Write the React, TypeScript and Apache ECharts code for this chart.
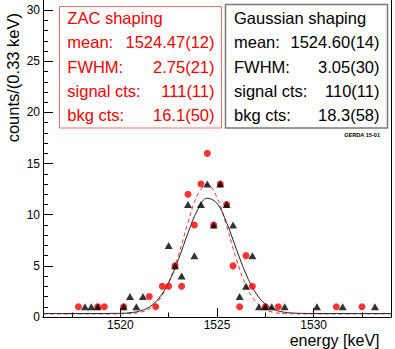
import React, { useEffect, useRef } from "react";
import * as echarts from "echarts";

// ---- data ----
// ZAC shaping (red circles): bin centres [keV] and counts per 0.33 keV
const zacEnergy = [1517.83, 1518.83, 1519.17, 1520.17, 1521.5, 1521.83, 1522.17, 1522.5, 1522.83, 1523.17, 1523.5, 1523.83, 1524.17, 1524.5, 1524.83, 1525.17, 1525.5, 1525.83, 1526.17, 1526.5, 1526.83, 1527.5, 1528.17, 1531.17, 1532.5];
const zacCounts = [1, 1, 1, 1, 2, 1, 3, 3, 5, 3, 12, 9, 13, 16, 9, 13, 11, 5, 1, 6, 3, 1, 1, 1, 1];

// Gaussian shaping (black triangles)
const gausEnergy = [1518.17, 1518.5, 1518.83, 1520.17, 1520.5, 1520.83, 1521.17, 1522.5, 1522.83, 1523.17, 1523.5, 1523.83, 1524.17, 1524.5, 1524.83, 1525.17, 1525.5, 1525.83, 1526.17, 1526.5, 1526.83, 1527.17, 1527.5, 1527.83, 1528.5, 1530.17, 1531.5, 1533.17];
const gausCounts = [1, 1, 1, 1, 2, 1, 2, 7, 5, 4, 11, 6, 11, 13, 9, 13, 11, 9, 2, 3, 6, 1, 1, 1, 1, 1, 1, 1];

// fitted curves
const curveEnergy = [1516, 1518, 1519, 1519.5, 1520, 1520.5, 1521, 1521.5, 1522, 1522.5, 1523, 1523.5, 1524, 1524.5, 1525, 1525.5, 1526, 1526.5, 1527, 1527.5, 1528, 1528.5, 1529, 1529.5, 1530, 1532, 1534];
const zacCurve = [0.3, 0.3, 0.3, 0.3, 0.31, 0.34, 0.45, 0.8, 1.65, 3.35, 6.02, 9.25, 11.96, 12.94, 11.7, 8.87, 5.66, 3.09, 1.51, 0.74, 0.43, 0.33, 0.31, 0.3, 0.3, 0.3, 0.3];
const gausCurve = [0.34, 0.34, 0.34, 0.35, 0.36, 0.42, 0.58, 0.98, 1.85, 3.37, 5.61, 8.22, 10.49, 11.61, 11.11, 9.21, 6.64, 4.19, 2.37, 1.26, 0.7, 0.46, 0.38, 0.35, 0.34, 0.34, 0.34];

// axes
const xMajor = [1520, 1525, 1530];
const xMinor = [1517.5, 1522.5, 1527.5, 1532.5];
const yMajor = [0, 5, 10, 15, 20, 25, 30];
const yMinor = [1, 2, 3, 4, 6, 7, 8, 9, 11, 12, 13, 14, 16, 17, 18, 19, 21, 22, 23, 24, 26, 27, 28, 29];

// legend boxes
const boxLabels = ["mean:", "FWHM:", "signal cts:", "bkg cts:"];
const zacValues = ["1524.47(12)", "2.75(21)", "111(11)", "16.1(50)"];
const gausValues = ["1524.60(14)", "3.05(30)", "110(11)", "18.3(58)"];

const FONT = '"Liberation Sans", Arial, Helvetica, sans-serif';
const RED = "#ff0000";

export default function App() {
  const ref = useRef<HTMLDivElement>(null);

  useEffect(() => {
    document.body.style.margin = "0";
    if (!ref.current) return;
    const chart = echarts.init(ref.current, undefined, { renderer: "svg" });

    const pair = (xs: number[], ys: number[]) => xs.map((x, i) => [x, ys[i]]);
    const fmt = (v: number) => String(v);

    const lineY = [18.3, 42.3, 66.7, 91.2, 115];
    const textEl = (text: string, x: number, y: number, color: string, align: string) => ({
      type: "text",
      x,
      y,
      z: 102,
      style: {
        text,
        fill: color,
        fontSize: 16.5,
        fontFamily: FONT,
        align,
        verticalAlign: "middle",
      },
    });

    const graphic: any[] = [
      {
        type: "rect",
        z: 100,
        shape: { x: 59.5, y: 6.5, width: 162, height: 121.5 },
        style: { fill: "#fff", stroke: "#ff6a6a", lineWidth: 1 },
      },
      {
        type: "rect",
        z: 100,
        shape: { x: 225.5, y: 4.5, width: 162, height: 123.5 },
        style: { fill: "#fff", stroke: "#7a7a7a", lineWidth: 1.5 },
      },
      textEl("ZAC shaping", 67.3, lineY[0], RED, "left"),
      textEl("Gaussian shaping", 234, lineY[0], "#000", "left"),
      ...boxLabels.map((t, i) => textEl(t, 67.3, lineY[i + 1], RED, "left")),
      ...zacValues.map((t, i) => textEl(t, 214.5, lineY[i + 1], RED, "right")),
      ...boxLabels.map((t, i) => textEl(t, 234, lineY[i + 1], "#000", "left")),
      ...gausValues.map((t, i) => textEl(t, 379.5, lineY[i + 1], "#000", "right")),
      {
        type: "text",
        x: 380,
        y: 134.5,
        z: 102,
        style: {
          text: "GERDA 15-01",
          fill: "#000",
          fontSize: 5.6,
          fontWeight: "bold",
          fontFamily: FONT,
          align: "right",
          verticalAlign: "middle",
        },
      },
      {
        type: "text",
        x: 12.5,
        y: 13,
        rotation: Math.PI / 2,
        z: 102,
        style: {
          text: "counts/(0.33 keV)",
          fill: "#000",
          fontSize: 16.5,
          fontFamily: FONT,
          align: "right",
          verticalAlign: "middle",
        },
      },
      {
        type: "text",
        x: 379.5,
        y: 340,
        z: 102,
        style: {
          text: "energy [keV]",
          fill: "#000",
          fontSize: 16,
          fontFamily: FONT,
          align: "right",
          verticalAlign: "middle",
        },
      },
    ];

    const axisLine = { show: true, onZero: false, lineStyle: { color: "#000", width: 1 } };

    chart.setOption({
      animation: false,
      backgroundColor: "#fff",
      grid: { left: 43, right: 4, top: 0, bottom: 32, containLabel: false },
      xAxis: [
        {
          type: "value",
          min: 1516,
          max: 1534,
          position: "bottom",
          axisLine,
          axisTick: { show: true, inside: true, length: 9, customValues: xMajor, lineStyle: { color: "#000" } },
          axisLabel: { customValues: xMajor, formatter: fmt, color: "#000", fontSize: 12, fontFamily: FONT, margin: 2 },
          splitLine: { show: false },
        },
        {
          type: "value",
          min: 1516,
          max: 1534,
          position: "bottom",
          axisLine: { show: false },
          axisTick: { show: true, inside: true, length: 4.5, customValues: xMinor, lineStyle: { color: "#000" } },
          axisLabel: { show: false },
          splitLine: { show: false },
        },
      ],
      yAxis: [
        {
          type: "value",
          min: 0,
          max: 31,
          position: "left",
          axisLine,
          axisTick: { show: true, inside: true, length: 10, customValues: yMajor, lineStyle: { color: "#000" } },
          axisLabel: { customValues: yMajor, formatter: fmt, color: "#000", fontSize: 12, fontFamily: FONT, margin: 3 },
          splitLine: { show: false },
        },
        {
          type: "value",
          min: 0,
          max: 31,
          position: "left",
          axisLine: { show: false },
          axisTick: { show: true, inside: true, length: 5, customValues: yMinor, lineStyle: { color: "#000" } },
          axisLabel: { show: false },
          splitLine: { show: false },
        },
        {
          type: "value",
          min: 0,
          max: 31,
          position: "right",
          axisLine,
          axisTick: { show: false },
          axisLabel: { show: false },
          splitLine: { show: false },
        },
      ],
      series: [
        {
          type: "line",
          data: pair(curveEnergy, zacCurve),
          smooth: 0.4,
          showSymbol: false,
          z: 2,
          lineStyle: { color: "#ff3030", width: 1, type: [4, 3] },
        },
        {
          type: "line",
          data: pair(curveEnergy, gausCurve),
          smooth: 0.4,
          showSymbol: false,
          z: 3,
          lineStyle: { color: "#222", width: 1 },
        },
        {
          type: "scatter",
          data: pair(zacEnergy, zacCounts),
          symbol: "circle",
          symbolSize: 7,
          z: 4,
          itemStyle: { color: RED },
        },
        {
          type: "scatter",
          data: pair(gausEnergy, gausCounts),
          symbol: "triangle",
          symbolSize: [8, 7],
          z: 5,
          itemStyle: { color: "#000" },
        },
      ],
      graphic,
    });

    return () => chart.dispose();
  }, []);

  return <div ref={ref} style={{ width: 395, height: 349 }} />;
}
